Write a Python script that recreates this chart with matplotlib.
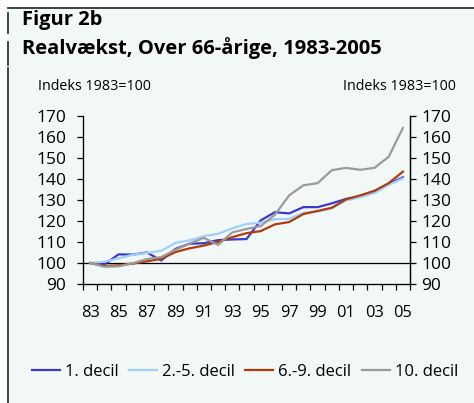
import matplotlib
import matplotlib.pyplot as plt
from matplotlib.patches import Rectangle
from matplotlib.lines import Line2D

matplotlib.rcParams['font.family'] = ['Open Sans', 'DejaVu Sans']

# 数据: 指数 1983=100
aar = ['83', '84', '85', '86', '87', '88', '89', '90', '91', '92', '93', '94',
       '95', '96', '97', '98', '99', '00', '01', '02', '03', '04', '05']
decil_1 = [100, 99.3, 104.1, 104.0, 105.0, 101.2, 106.7, 109.2, 109.4, 110.9, 111.2, 111.4,
           120.3, 124.2, 123.6, 126.6, 126.6, 128.4, 130.5, 131.9, 134.0, 137.6, 140.8]
decil_2_5 = [100, 100.6, 102.2, 103.9, 104.8, 105.8, 109.6, 110.8, 112.8, 113.9, 116.5, 118.6,
             119.2, 120.9, 121.0, 123.9, 124.5, 126.0, 129.8, 131.3, 133.3, 137.2, 140.3]
decil_6_9 = [100, 98.6, 98.9, 99.7, 100.8, 102.0, 105.2, 107.0, 108.3, 110.0, 112.3, 114.2,
             115.2, 118.4, 119.5, 123.3, 124.8, 126.3, 130.3, 132.2, 134.4, 138.0, 143.5]
decil_10 = [100, 98.2, 98.4, 99.9, 101.9, 102.8, 106.3, 109.3, 112.0, 108.6, 114.6, 116.2,
            117.6, 123.0, 132.2, 137.0, 138.0, 144.2, 145.3, 144.4, 145.3, 150.6, 164.3]

serier = [decil_1, decil_2_5, decil_6_9, decil_10]
navne = ['1. decil', '2.-5. decil', '6.-9. decil', '10. decil']
farver = ['#3a3ad0', '#9fd0ff', '#b13c0a', '#9a9a9a']
y_ticks = [90, 100, 110, 120, 130, 140, 150, 160, 170]

W, H = 474, 403
fig = plt.figure(figsize=(W / 100, H / 100), dpi=100, facecolor='white')

# 背景和边框
bg = '#f1f8f6'
fig.patches.append(Rectangle((8 / W, 0), 1, 1 - 8 / H, transform=fig.transFigure,
                             facecolor=bg, edgecolor='none', zorder=-10))
fig.lines.append(Line2D([8 / W, 1], [1 - 8 / H, 1 - 8 / H], transform=fig.transFigure,
                        color='#222222', lw=1.2))
for y0, y1 in [(13, 33), (42, 65), (68, 403)]:
    fig.lines.append(Line2D([8 / W, 8 / W], [1 - y0 / H, 1 - y1 / H], transform=fig.transFigure,
                            color='#222222', lw=1.2))

fig.text(22 / W, 1 - 20 / H, 'Figur 2b', fontsize=14.5, fontweight='bold', va='center', ha='left')
fig.text(22 / W, 1 - 48 / H, 'Realvækst, Over 66-årige, 1983-2005', fontsize=14.5,
         fontweight='bold', va='center', ha='left')
fig.text(38 / W, 1 - 87 / H, 'Indeks 1983=100', fontsize=10.3, va='center', ha='left')
fig.text(456 / W, 1 - 87 / H, 'Indeks 1983=100', fontsize=10.3, va='center', ha='right')

ax = fig.add_axes([83 / W, 1 - 284 / H, 327 / W, 168 / H])
ax.set_facecolor('none')
x = list(range(len(aar)))
for s, navn, c in zip(serier, navne, farver):
    ax.plot(x, s, color=c, lw=1.6, label=navn)
ax.axhline(100, color='black', lw=0.9, zorder=1)

ax.set_xlim(-0.5, len(aar) - 0.5)
ax.set_ylim(90, 170)
ax.set_yticks(y_ticks)
ax.tick_params(axis='y', direction='out', length=4, width=0.9, labelsize=12.5, pad=8)
ax.set_xticks([i - 0.5 for i in range(len(aar) + 1)], minor=True)
ax.set_xticks(x[::2])
ax.set_xticklabels(aar[::2])
ax.tick_params(axis='x', which='major', length=0, labelsize=11.8, pad=15)
ax.tick_params(axis='x', which='minor', direction='out', length=4.5, width=0.9)
ax.spines['top'].set_visible(False)
for sp in ['left', 'right', 'bottom']:
    ax.spines[sp].set_linewidth(0.9)

ax2 = ax.twinx()
ax2.set_ylim(90, 170)
ax2.set_yticks(y_ticks)
ax2.tick_params(axis='y', direction='out', length=4, width=0.9, labelsize=12.5, pad=4)
ax2.spines['top'].set_visible(False)
ax2.spines['right'].set_linewidth(0.9)

fig.legend(*ax.get_legend_handles_labels(), loc='center', bbox_to_anchor=(245 / W, 1 - 372 / H),
           ncol=4, frameon=False, fontsize=12, handlelength=1.7, handletextpad=0.3,
           columnspacing=0.6)

fig.savefig('out.png', dpi=100, facecolor='white')
